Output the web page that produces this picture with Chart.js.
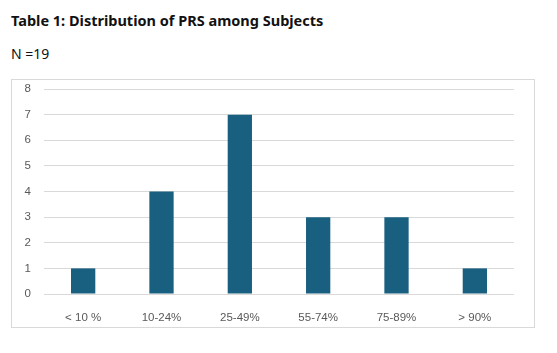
<!DOCTYPE html>
<html>
<head>
<meta charset="utf-8">
<script src="https://cdn.jsdelivr.net/npm/chart.js@4"></script>
<style>
  body { margin:0; background:#fff; width:557px; height:353px; position:relative; font-family:"Noto Sans", sans-serif; }
  #title { position:absolute; left:11px; top:10px; font-size:14.5px; font-weight:bold; color:#111; white-space:nowrap; }
  #sub { position:absolute; left:11px; top:44px; font-size:14px; color:#111; }
  #box { position:absolute; left:11px; top:79px; width:522px; height:247px; border:1px solid #d9d9d9; }
  #box canvas { display:block; }
</style>
</head>
<body>
<div id="title">Table 1: Distribution of PRS among Subjects</div>
<div id="sub">N =19</div>
<div id="box"><canvas id="c" width="522" height="247"></canvas></div>
<script>
const categories = ["< 10 %", "10-24%", "25-49%", "55-74%", "75-89%", "> 90%"];
const counts = [1, 4, 7, 3, 3, 1];
const yTicks = [0, 1, 2, 3, 4, 5, 6, 7, 8];

const ctx = document.getElementById('c').getContext('2d');
new Chart(ctx, {
  type: 'bar',
  data: {
    labels: categories,
    datasets: [{
      data: counts,
      backgroundColor: '#185f80',
      barPercentage: 0.31,
      categoryPercentage: 1
    }]
  },
  options: {
    responsive: false,
    animation: false,
    layout: { padding: { top: 0, right: 20, bottom: 0, left: 0 } },
    plugins: { legend: { display: false }, tooltip: { enabled: false } },
    scales: {
      x: {
        grid: { display: false },
        border: { display: false },
        ticks: { color: '#595959', font: { family: 'Liberation Sans', size: 11.5 }, padding: 9, maxRotation: 0 },
        afterFit: s => { s.height = 33; }
      },
      y: {
        min: 0, max: yTicks[yTicks.length - 1],
        afterBuildTicks: s => { s.ticks = yTicks.map(v => ({ value: v })); },
        grid: { color: '#d9d9d9', drawTicks: false },
        border: { display: false },
        ticks: { color: '#595959', font: { family: 'Liberation Sans', size: 11.5 }, padding: 13 },
        afterFit: s => { s.width = 32; s.paddingTop = 9; s.paddingBottom = 0; }
      }
    }
  }
});
</script>
</body>
</html>
